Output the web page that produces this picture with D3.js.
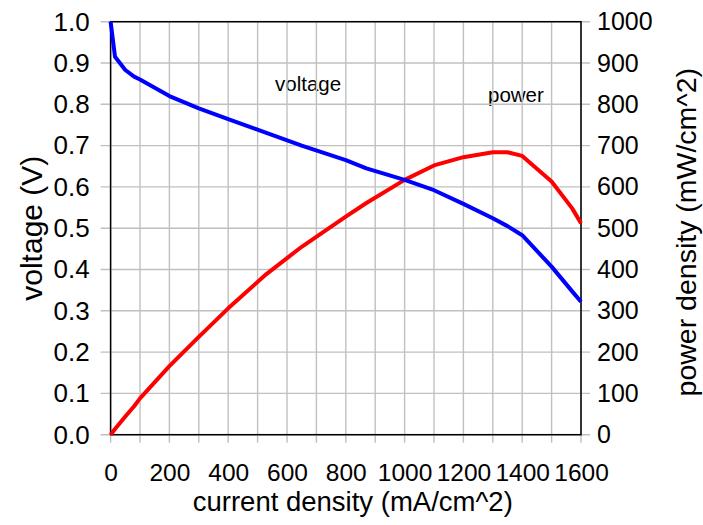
<!DOCTYPE html>
<html>
<head>
<meta charset="utf-8">
<script src="https://cdn.jsdelivr.net/npm/d3@7"></script>
<style>
  body { margin: 0; background: #fff; }
  svg text { font-family: "Liberation Sans", Arial, sans-serif; fill: #000; }
</style>
</head>
<body>
<svg class="chart"></svg>
<script>
// polarization data
const current = [0, 15, 50, 80, 100, 200, 300, 400, 530, 650, 800, 870, 1000, 1100, 1200, 1300, 1350, 1400, 1500, 1570, 1600];
const voltage = [1.0, 0.915, 0.883, 0.867, 0.86, 0.82, 0.79, 0.764, 0.731, 0.7, 0.665, 0.645, 0.617, 0.592, 0.559, 0.524, 0.505, 0.483, 0.407, 0.347, 0.322];
const power = [0, 14, 44, 69, 88, 166, 237, 306, 389, 455, 528, 561, 617, 652, 672, 684, 684, 675, 613, 548, 512];

const xTicks = [0, 200, 400, 600, 800, 1000, 1200, 1400, 1600];
const xGrid = d3.range(0, 1601, 100);
const vTicks = [0, 0.1, 0.2, 0.3, 0.4, 0.5, 0.6, 0.7, 0.8, 0.9, 1.0];
const pTicks = [0, 100, 200, 300, 400, 500, 600, 700, 800, 900, 1000];

const size = { w: 703, h: 525 };
const margin = { t: 21.7, r: 122, b: 90.3, l: 110.6 };

const svg = d3.select("svg.chart").attr("width", size.w).attr("height", size.h);
const g = svg.append("g");

const xScale = d3.scaleLinear().domain([0, 1600]).range([margin.l, size.w - margin.r]);
const vScale = d3.scaleLinear().domain([0, 1]).range([size.h - margin.b, margin.t]);
const pScale = d3.scaleLinear().domain([0, 1000]).range([size.h - margin.b, margin.t]);

const x0 = xScale.range()[0], x1 = xScale.range()[1];
const y0 = vScale.range()[0], y1 = vScale.range()[1];

// in-plot labels (sit under the grid)
g.append("text").attr("x", 275).attr("y", 91).style("font-size", "20.5px").text("voltage");
g.append("text").attr("x", 488).attr("y", 102).style("font-size", "20.5px").text("power");

// grid + outside ticks
g.selectAll("line.vgrid")
  .data(xGrid)
  .join("line")
  .attr("class", "vgrid")
  .attr("x1", d => xScale(d)).attr("x2", d => xScale(d))
  .attr("y1", y1).attr("y2", y0 + 8)
  .attr("stroke", "#c0c0c0").attr("stroke-width", 1.4);

g.selectAll("line.hgrid")
  .data(vTicks)
  .join("line")
  .attr("class", "hgrid")
  .attr("x1", x0 - 10).attr("x2", x1 + 9)
  .attr("y1", d => vScale(d)).attr("y2", d => vScale(d))
  .attr("stroke", "#c0c0c0").attr("stroke-width", 1.4);

// frame
g.append("rect")
  .attr("x", x0).attr("y", y1)
  .attr("width", x1 - x0).attr("height", y0 - y1)
  .attr("fill", "none").attr("stroke", "#000").attr("stroke-width", 1.5);

// axes (labels only, grid drawn above)
const xAxis = g.append("g")
  .attr("transform", `translate(0,${y0})`)
  .call(d3.axisBottom(xScale).tickValues(xTicks).tickSize(0).tickPadding(29).tickFormat(d3.format("d")));

const vAxis = g.append("g")
  .attr("transform", `translate(${x0},0)`)
  .call(d3.axisLeft(vScale).tickValues(vTicks).tickSize(0).tickPadding(21).tickFormat(d3.format(".1f")));

const pAxis = g.append("g")
  .attr("transform", `translate(${x1},0)`)
  .call(d3.axisRight(pScale).tickValues(pTicks).tickSize(0).tickPadding(16).tickFormat(d3.format("d")));

[xAxis, vAxis, pAxis].forEach(a => {
  a.select(".domain").remove();
  a.selectAll("text").attr("fill", "#000").style("font-family", "Liberation Sans, Arial, sans-serif");
});
xAxis.selectAll("text").style("font-size", "24.5px");
vAxis.selectAll("text").style("font-size", "26px");
pAxis.selectAll("text").style("font-size", "25px");

// axis titles
g.append("text")
  .attr("x", (x0 + x1) / 2 + 7).attr("y", 511)
  .attr("text-anchor", "middle").style("font-size", "27.5px")
  .text("current density (mA/cm^2)");

g.append("text")
  .attr("transform", `translate(42,${(y0 + y1) / 2}) rotate(-90)`)
  .attr("text-anchor", "middle").style("font-size", "30px")
  .text("voltage (V)");

g.append("text")
  .attr("transform", `translate(696,${(y0 + y1) / 2 + 4}) rotate(-90)`)
  .attr("text-anchor", "middle").style("font-size", "28.5px")
  .text("power density (mW/cm^2)");

// curves
const vLine = d3.line().x((d, i) => xScale(current[i])).y(d => vScale(d));
const pLine = d3.line().x((d, i) => xScale(current[i])).y(d => pScale(d));

g.append("path").datum(power)
  .attr("d", pLine)
  .attr("fill", "none").attr("stroke", "#ff0000").attr("stroke-width", 4)
  .attr("stroke-linejoin", "round");

g.append("path").datum(voltage)
  .attr("d", vLine)
  .attr("fill", "none").attr("stroke", "#0000ff").attr("stroke-width", 4)
  .attr("stroke-linejoin", "round");
</script>
</body>
</html>
